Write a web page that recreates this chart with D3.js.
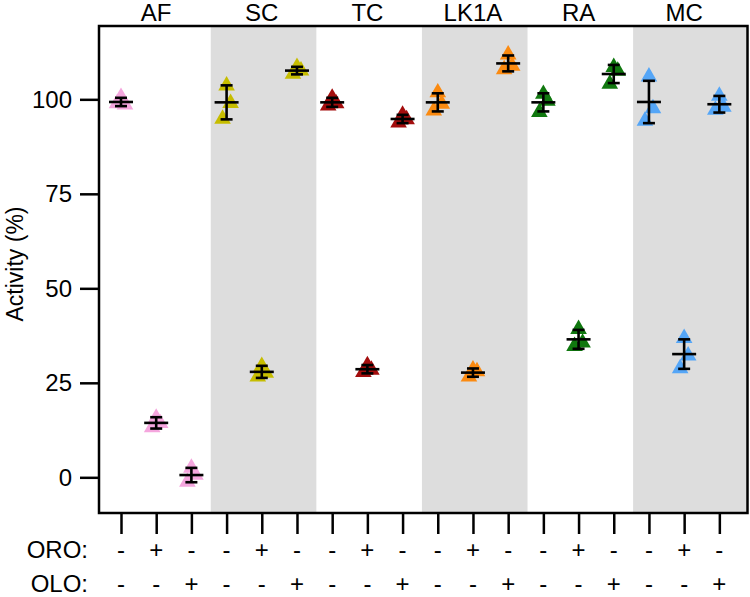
<!DOCTYPE html>
<html>
<head>
<meta charset="utf-8">
<script src="https://cdn.jsdelivr.net/npm/d3@7"></script>
<style>
  html, body { margin: 0; padding: 0; background: #fff; }
  svg { display: block; font-family: "Liberation Sans", Arial, sans-serif; }
  svg text { font-family: "Liberation Sans", Arial, sans-serif; fill: #000; }
</style>
</head>
<body>
<svg id="chart" width="750" height="597"></svg>
<script>
// ---------------- data ----------------
const groups = ["AF", "SC", "TC", "LK1A", "RA", "MC"];
const groupColors = ["#f5a6de", "#c6bd00", "#a30d0d", "#fb8a10", "#10780f", "#55a6f7"];
const oroLabels = ["-", "+", "-"];
const oloLabels = ["-", "-", "+"];
const yTicks = [0, 25, 50, 75, 100];

// replicate values (activity %) per group: control, +ORO, +OLO
const ctrlReps = [[100.6, 98.6, 98.9], [103.6, 99.0, 94.8], [100.4, 98.9, 98.3], [101.8, 98.8, 97.0], [101.4, 99.6, 96.6], [106.0, 97.6, 94.3]];
const oroReps  = [[15.7, 14.3, 13.2], [29.4, 27.6, 26.6], [29.6, 28.4, 27.8], [28.5, 28.0, 26.6], [39.2, 35.6, 34.7], [36.8, 32.2, 28.8]];
const oloReps  = [[2.5, 0.6, -1.2], [108.5, 107.6, 106.7], [95.9, 94.7, 93.8], [111.8, 108.8, 107.9], [108.5, 107.5, 104.1], [100.9, 98.0, 97.2]];

// means and error bars (SD)
const ctrlMean = [99.3, 99.2, 99.2, 99.2, 99.2, 99.3];
const ctrlSD   = [1.1, 4.5, 1.2, 2.4, 2.4, 5.6];
const oroMean  = [14.4, 27.9, 28.6, 27.7, 36.5, 32.6];
const oroSD    = [1.5, 1.6, 1.1, 1.1, 2.5, 3.9];
const oloMean  = [0.6, 107.6, 94.8, 109.5, 106.7, 98.7];
const oloSD    = [1.9, 1.0, 1.1, 2.1, 2.4, 2.2];

// ---------------- build ----------------
const conds = [
  {reps: ctrlReps, mean: ctrlMean, sd: ctrlSD},
  {reps: oroReps, mean: oroMean, sd: oroSD},
  {reps: oloReps, mean: oloMean, sd: oloSD}
];
const points = [], bars = [];
groups.forEach((g, gi) => {
  conds.forEach((c, ci) => {
    const pos = gi * 3 + ci;
    c.reps[gi].forEach((v, ri) => points.push({pos, v, ri, color: groupColors[gi]}));
    bars.push({pos, mean: c.mean[gi], sd: c.sd[gi]});
  });
});
const positions = d3.range(groups.length * 3);

const pL = 99, pR = 747.5, pT = 26, pB = 513;
const x = d3.scaleLinear().domain([-0.625, 17.8]).range([pL, pR]);
const y = d3.scaleLinear().domain([-9.44, 119.4]).range([pB, pT]);

const svg = d3.select("#chart");

// alternating group backgrounds
const edges = [-0.625, 2.55, 5.55, 8.55, 11.55, 14.55, 17.8];
svg.append("g").selectAll("rect")
  .data(groups.map((g, i) => ({i, x0: edges[i], x1: edges[i + 1]})).filter(d => d.i % 2 === 1))
  .join("rect")
  .attr("x", d => x(d.x0))
  .attr("width", d => x(d.x1) - x(d.x0))
  .attr("y", pT)
  .attr("height", pB - pT)
  .attr("fill", "#dddddd");

// points
const jitter = [0, 4, -4];
const tri = d3.symbol().type(d3.symbolTriangle).size(120);
svg.append("g").selectAll("path")
  .data(points)
  .join("path")
  .attr("d", tri)
  .attr("transform", d => `translate(${x(d.pos) + jitter[d.ri]},${y(d.v)})`)
  .attr("fill", d => d.color);

// error bars
const eb = svg.append("g").attr("stroke", "#000").attr("stroke-width", 2.6).attr("fill", "none");
bars.forEach(b => {
  const cx = x(b.pos);
  eb.append("line").attr("x1", cx).attr("x2", cx).attr("y1", y(b.mean + b.sd)).attr("y2", y(b.mean - b.sd));
  eb.append("line").attr("x1", cx - 6).attr("x2", cx + 6).attr("y1", y(b.mean + b.sd)).attr("y2", y(b.mean + b.sd));
  eb.append("line").attr("x1", cx - 6).attr("x2", cx + 6).attr("y1", y(b.mean - b.sd)).attr("y2", y(b.mean - b.sd));
  eb.append("line").attr("x1", cx - 12).attr("x2", cx + 12).attr("y1", y(b.mean)).attr("y2", y(b.mean));
});

// y axis
const yAxis = svg.append("g")
  .attr("transform", `translate(${pL},0)`)
  .call(d3.axisLeft(y).tickValues(yTicks).tickSize(19).tickSizeOuter(0).tickPadding(8));
yAxis.attr("font-size", null).attr("font-family", null);
yAxis.select(".domain").remove();
yAxis.selectAll(".tick line").attr("stroke-width", 2.5).attr("stroke", "#000");
yAxis.selectAll(".tick text").style("font-size", "24px");

// x axis ticks
const xAxis = svg.append("g")
  .attr("transform", `translate(0,${pB})`)
  .call(d3.axisBottom(x).tickValues(positions).tickSize(21).tickSizeOuter(0).tickFormat(""));
xAxis.select(".domain").remove();
xAxis.selectAll(".tick line").attr("stroke-width", 2.5).attr("stroke", "#000");

// frame
svg.append("rect")
  .attr("x", pL).attr("y", pT)
  .attr("width", pR - pL).attr("height", pB - pT)
  .attr("fill", "none").attr("stroke", "#000").attr("stroke-width", 2.5);

// group titles
svg.append("g").selectAll("text")
  .data(groups)
  .join("text")
  .attr("x", (d, i) => x(i * 3 + 1))
  .attr("y", 21)
  .attr("text-anchor", "middle")
  .style("font-size", "24px")
  .text(d => d);

// ORO / OLO rows
const rows = [{label: "ORO:", signs: oroLabels, yb: 558}, {label: "OLO:", signs: oloLabels, yb: 592}];
rows.forEach(r => {
  svg.append("text").attr("x", 88).attr("y", r.yb).attr("text-anchor", "end")
    .style("font-size", "24px").text(r.label);
  svg.append("g").selectAll("text")
    .data(positions)
    .join("text")
    .attr("x", p => x(p))
    .attr("y", r.yb)
    .attr("text-anchor", "middle")
    .style("font-size", "24px")
    .text(p => r.signs[p % 3]);
});

// y title
svg.append("text")
  .attr("transform", "translate(23,264) rotate(-90)")
  .attr("text-anchor", "middle")
  .style("font-size", "23px")
  .text("Activity (%)");
</script>
</body>
</html>
